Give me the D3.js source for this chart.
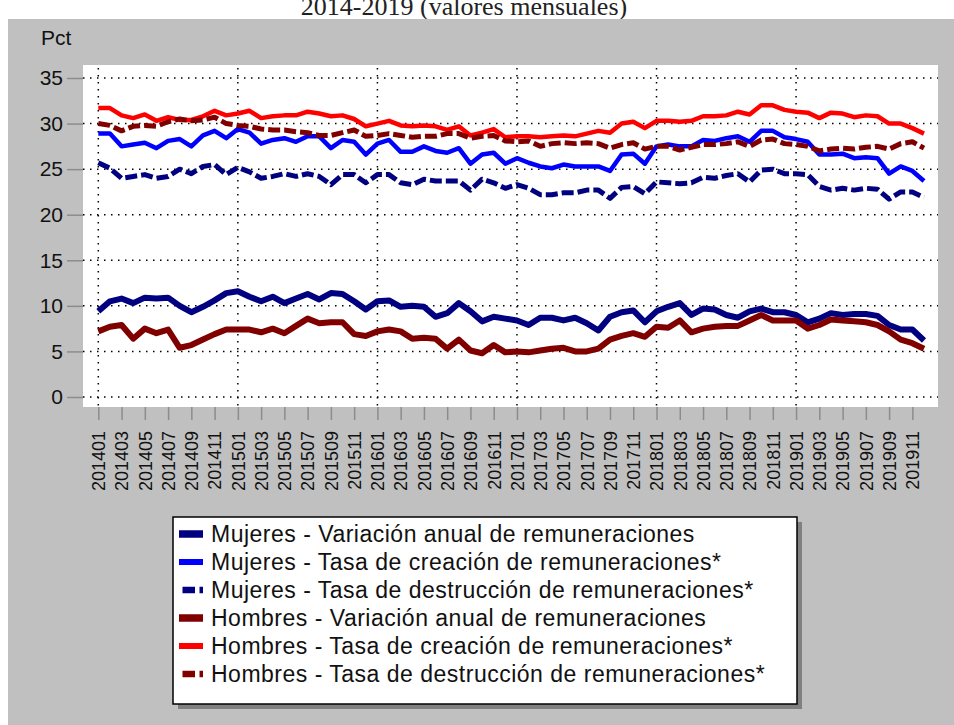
<!DOCTYPE html>
<html>
<head>
<meta charset="utf-8">
<script src="https://cdn.jsdelivr.net/npm/d3@7"></script>
<style>
body { margin: 0; background: #fff; }
</style>
</head>
<body>
<svg id="chart" width="954" height="725"></svg>
<script>
var months = [
	"201401","201402","201403","201404","201405","201406","201407","201408","201409","201410","201411","201412",
	"201501","201502","201503","201504","201505","201506","201507","201508","201509","201510","201511","201512",
	"201601","201602","201603","201604","201605","201606","201607","201608","201609","201610","201611","201612",
	"201701","201702","201703","201704","201705","201706","201707","201708","201709","201710","201711","201712",
	"201801","201802","201803","201804","201805","201806","201807","201808","201809","201810","201811","201812",
	"201901","201902","201903","201904","201905","201906","201907","201908","201909","201910","201911","201912"
]
var yTicks = [0, 5, 10, 15, 20, 25, 30, 35]
var yearStarts = ["201401", "201501", "201601", "201701", "201801", "201901"]

var mujeresVariacion = [
	9.4, 10.5, 10.8, 10.3, 10.9, 10.8, 10.9, 10.0, 9.3, 9.9, 10.6, 11.4,
	11.6, 11.0, 10.5, 11.0, 10.3, 10.8, 11.3, 10.7, 11.4, 11.3, 10.5, 9.6,
	10.5, 10.6, 9.9, 10.0, 9.9, 8.8, 9.2, 10.3, 9.4, 8.3, 8.8, 8.6,
	8.4, 7.9, 8.7, 8.7, 8.4, 8.7, 8.1, 7.3, 8.8, 9.3, 9.5, 8.2,
	9.4, 9.9, 10.3, 9.0, 9.7, 9.6, 9.0, 8.7, 9.4, 9.7, 9.3, 9.3,
	9.0, 8.2, 8.6, 9.2, 9.0, 9.1, 9.1, 8.9, 7.9, 7.4, 7.4, 6.2
]
var mujeresCreacion = [
	28.9, 28.9, 27.5, 27.7, 27.9, 27.3, 28.1, 28.3, 27.5, 28.7, 29.2, 28.4,
	29.4, 29.0, 27.8, 28.2, 28.4, 28.0, 28.6, 28.6, 27.3, 28.2, 28.0, 26.6,
	27.8, 28.2, 26.9, 26.9, 27.5, 27.0, 26.8, 27.3, 25.6, 26.6, 26.8, 25.6,
	26.2, 25.7, 25.3, 25.1, 25.5, 25.3, 25.3, 25.3, 24.8, 26.6, 26.7, 25.6,
	27.5, 27.7, 27.5, 27.5, 28.2, 28.1, 28.4, 28.6, 28.0, 29.2, 29.2, 28.5,
	28.3, 28.0, 26.6, 26.6, 26.7, 26.2, 26.3, 26.2, 24.5, 25.3, 24.8, 23.7
]
var mujeresDestruccion = [
	25.7, 25.1, 24.0, 24.2, 24.4, 24.0, 24.2, 25.0, 24.5, 25.3, 25.5, 24.4,
	25.2, 24.7, 24.0, 24.2, 24.5, 24.2, 24.5, 24.2, 23.3, 24.4, 24.4, 23.5,
	24.4, 24.4, 23.5, 23.3, 23.9, 23.7, 23.7, 23.7, 22.7, 23.9, 23.5, 22.9,
	23.3, 22.9, 22.2, 22.2, 22.4, 22.4, 22.7, 22.7, 21.8, 23.0, 23.1, 22.3,
	23.6, 23.5, 23.4, 23.5, 24.1, 24.0, 24.3, 24.5, 23.6, 24.9, 25.0, 24.5,
	24.5, 24.4, 23.1, 22.7, 22.9, 22.7, 22.9, 22.8, 21.7, 22.5, 22.5, 21.9
]
var hombresVariacion = [
	7.2, 7.7, 7.9, 6.4, 7.5, 7.0, 7.4, 5.4, 5.7, 6.3, 6.9, 7.4,
	7.4, 7.4, 7.1, 7.5, 7.0, 7.8, 8.6, 8.1, 8.2, 8.2, 6.9, 6.7,
	7.2, 7.4, 7.2, 6.4, 6.5, 6.4, 5.3, 6.3, 5.1, 4.8, 5.7, 4.9,
	5.0, 4.9, 5.1, 5.3, 5.4, 5.0, 5.0, 5.3, 6.3, 6.7, 7.0, 6.6,
	7.7, 7.6, 8.4, 7.1, 7.5, 7.7, 7.8, 7.8, 8.4, 9.0, 8.4, 8.4,
	8.4, 7.5, 7.9, 8.5, 8.4, 8.3, 8.2, 7.9, 7.2, 6.3, 5.9, 5.3
]
var hombresCreacion = [
	31.7, 31.7, 30.9, 30.6, 31.0, 30.3, 30.7, 30.4, 30.4, 30.8, 31.4, 30.9,
	31.1, 31.4, 30.6, 30.8, 30.9, 30.9, 31.3, 31.1, 30.8, 30.9, 30.5, 29.7,
	30.0, 30.3, 29.8, 29.7, 29.8, 29.7, 29.3, 29.7, 28.7, 29.0, 29.4, 28.5,
	28.6, 28.6, 28.5, 28.6, 28.7, 28.6, 28.9, 29.2, 29.0, 30.0, 30.2, 29.5,
	30.3, 30.3, 30.2, 30.3, 30.8, 30.8, 30.9, 31.3, 31.0, 32.0, 32.0, 31.5,
	31.3, 31.2, 30.6, 31.2, 31.1, 30.7, 30.9, 30.8, 30.0, 30.0, 29.5, 28.9
]
var hombresDestruccion = [
	30.0, 29.8, 29.2, 29.7, 29.8, 29.7, 30.2, 30.5, 30.3, 30.4, 30.7, 30.0,
	29.8, 29.7, 29.4, 29.3, 29.3, 29.1, 29.0, 28.7, 28.7, 29.0, 29.3, 28.6,
	28.7, 28.9, 28.7, 28.5, 28.6, 28.6, 28.9, 28.9, 28.4, 28.6, 28.7, 28.1,
	28.0, 28.1, 27.5, 27.8, 27.9, 27.8, 27.9, 27.8, 27.3, 27.7, 27.9, 27.2,
	27.5, 27.5, 27.1, 27.4, 27.7, 27.7, 27.8, 28.0, 27.5, 28.2, 28.3, 27.8,
	27.7, 27.5, 27.0, 27.2, 27.3, 27.2, 27.4, 27.5, 27.2, 27.8, 28.0, 27.3
]
var seriesNames = [
	"Mujeres - Variación anual de remuneraciones",
	"Mujeres - Tasa de creación de remuneraciones*",
	"Mujeres - Tasa de destrucción de remuneraciones*",
	"Hombres - Variación anual de remuneraciones",
	"Hombres - Tasa de creación de remuneraciones*",
	"Hombres - Tasa de destrucción de remuneraciones*"
]

var series = [
	{ name: seriesNames[0], values: mujeresVariacion, color: "#000080", width: 6, dash: null },
	{ name: seriesNames[1], values: mujeresCreacion, color: "#0000ff", width: 4.5, dash: null },
	{ name: seriesNames[2], values: mujeresDestruccion, color: "#000080", width: 5, dash: "12,4" },
	{ name: seriesNames[3], values: hombresVariacion, color: "#800000", width: 6, dash: null },
	{ name: seriesNames[4], values: hombresCreacion, color: "#ff0000", width: 4.5, dash: null },
	{ name: seriesNames[5], values: hombresDestruccion, color: "#800000", width: 5, dash: "12,4" }
]

var FONT = "Arial, 'Liberation Sans', sans-serif"
var PLOT_LEFT = 83, PLOT_RIGHT = 938, PLOT_TOP = 65, PLOT_BOTTOM = 407

var chart = d3.select("#chart")

chart.append("text")
	.attr("x", 464)
	.attr("y", 15)
	.attr("text-anchor", "middle")
	.attr("font-family", "'Liberation Serif', serif")
	.attr("font-size", "26px")
	.attr("fill", "#222")
	.text("2014-2019 (valores mensuales)")

chart.append("rect")
	.attr("x", 8).attr("y", 19)
	.attr("width", 946).attr("height", 706)
	.attr("fill", "#c0c0c0")

chart.append("rect")
	.attr("x", PLOT_LEFT).attr("y", PLOT_TOP)
	.attr("width", PLOT_RIGHT - PLOT_LEFT).attr("height", PLOT_BOTTOM - PLOT_TOP)
	.attr("fill", "#fff")

chart.append("text")
	.attr("x", 41)
	.attr("y", 45)
	.attr("font-family", FONT)
	.attr("font-size", "21px")
	.attr("fill", "#111")
	.text("Pct")

var x = d3.scalePoint().domain(months).range([98.3, 924])
var y = d3.scaleLinear().domain([0, 35]).range([397, 78])

// dotted grid
var grid = chart.append("g")
grid.selectAll(".hgrid").data(yTicks).enter()
	.append("line")
		.attr("x1", PLOT_LEFT).attr("x2", PLOT_RIGHT)
		.attr("y1", d => y(d)).attr("y2", d => y(d))
		.attr("stroke", "#000")
		.attr("stroke-width", 1.5)
		.attr("stroke-dasharray", "1.5,5.5")
grid.selectAll(".vgrid").data(yearStarts).enter()
	.append("line")
		.attr("x1", d => x(d)).attr("x2", d => x(d))
		.attr("y1", PLOT_TOP + 3).attr("y2", PLOT_BOTTOM)
		.attr("stroke", "#000")
		.attr("stroke-width", 1.5)
		.attr("stroke-dasharray", "1.5,5.5")

// y axis
var yAxis = chart.append("g")
	.attr("transform", "translate(" + PLOT_LEFT + ",0)")
	.call(d3.axisLeft(y).tickValues(yTicks).tickSize(16).tickPadding(4))
yAxis.select(".domain").remove()
yAxis.selectAll(".tick line").attr("stroke", "#8c8c8c").attr("stroke-width", 1.5)
yAxis.selectAll(".tick text")
	.attr("font-family", FONT)
	.attr("font-size", "21px")
	.attr("fill", "#111")

// x axis
var xAxis = chart.append("g")
	.attr("transform", "translate(0," + PLOT_BOTTOM + ")")
	.call(d3.axisBottom(x).tickValues(months.filter((_, i) => i % 2 == 0)).tickSize(13).tickPadding(0))
xAxis.select(".domain").remove()
xAxis.selectAll(".tick line").attr("stroke", "#8c8c8c").attr("stroke-width", 1.5)
xAxis.selectAll(".tick text")
	.attr("font-family", FONT)
	.attr("font-size", "18px")
	.attr("fill", "#111")
	.attr("text-anchor", "end")
	.attr("transform", "translate(0,24) rotate(-90)")
	.attr("x", 0).attr("y", 0)
	.attr("dy", "0.35em")

// lines
var line = d3.line()
	.x((_, i) => x(months[i]))
	.y(d => y(d))

chart.append("g").selectAll("path").data(series).enter()
	.append("path")
		.attr("d", d => line(d.values))
		.attr("fill", "none")
		.attr("stroke", d => d.color)
		.attr("stroke-width", d => d.width)
		.attr("stroke-linejoin", "round")
		.attr("stroke-dasharray", d => d.dash)

// legend
var LEG_X = 173, LEG_Y = 517, LEG_W = 624, LEG_H = 187, ROW = 28
chart.append("rect")
	.attr("x", LEG_X + 5).attr("y", LEG_Y + 5)
	.attr("width", LEG_W).attr("height", LEG_H)
	.attr("fill", "#808080")
chart.append("rect")
	.attr("x", LEG_X).attr("y", LEG_Y)
	.attr("width", LEG_W).attr("height", LEG_H)
	.attr("fill", "#fff")
	.attr("stroke", "#000")
	.attr("stroke-width", 1.5)

var items = chart.append("g").selectAll("g").data(series).enter()
	.append("g")
		.attr("transform", (_, i) => "translate(0," + (LEG_Y + 17 + i * ROW) + ")")
items.append("line")
	.attr("x1", d => d.dash ? 182.5 : 179).attr("x2", 203)
	.attr("y1", 0).attr("y2", 0)
	.attr("stroke", d => d.color)
	.attr("stroke-width", d => d.width + 1.5)
	.attr("stroke-dasharray", d => d.dash ? "12.5,4.5,4,10" : null)
items.append("text")
	.attr("x", 211)
	.attr("y", 0)
	.attr("dy", "0.36em")
	.attr("font-family", FONT)
	.attr("font-size", "23px")
	.attr("letter-spacing", "0.5px")
	.attr("fill", "#111")
	.text(d => d.name)
</script>
</body>
</html>
